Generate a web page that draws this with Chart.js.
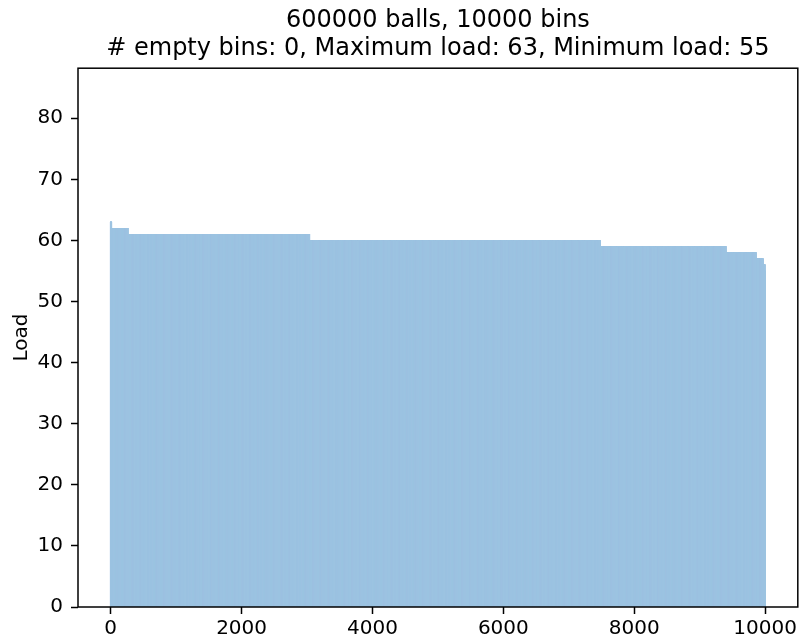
<!DOCTYPE html>
<html>
<head>
<meta charset="utf-8">
<script src="https://cdn.jsdelivr.net/npm/chart.js@4/dist/chart.umd.min.js"></script>
<style>
  body { margin: 0; background: #fff; }
  canvas { display: block; }
</style>
</head>
<body>
<canvas id="loadChart" width="800" height="641"></canvas>
<script>
const loadLevels = [63, 62, 61, 60, 59, 58, 57, 56, 55];
const binCounts = [10, 250, 2776, 4440, 1923, 459, 108, 29, 5];
const xTicks = [0, 2000, 4000, 6000, 8000, 10000];
const yTicks = [0, 10, 20, 30, 40, 50, 60, 70, 80];
const titleLines = [
  "600000 balls, 10000 bins",
  "# empty bins: 0, Maximum load: 63, Minimum load: 55"
];

let bins = [];
loadLevels.forEach((load, i) => {
  for (let k = 0; k < binCounts[i]; k++) {
    bins.push({ x: bins.length, y: load });
  }
});

const frame = {
  id: "frame",
  afterDraw(chart) {
    const a = chart.chartArea;
    const ctx = chart.ctx;
    ctx.save();
    ctx.strokeStyle = "#000";
    ctx.lineWidth = 1.5;
    ctx.strokeRect(a.left, a.top, a.right - a.left, a.bottom - a.top);
    ctx.restore();
  }
};

Chart.defaults.font.family = "'DejaVu Sans', sans-serif";
Chart.defaults.color = "#000";

new Chart(document.getElementById("loadChart"), {
  type: "bar",
  data: {
    datasets: [{
      data: bins,
      backgroundColor: "#9dc3e1",
      barThickness: 1,
      borderWidth: 0
    }]
  },
  options: {
    responsive: false,
    animation: false,
    events: [],
    layout: { padding: { left: 6, right: 1, top: 0, bottom: 0 } },
    plugins: {
      legend: { display: false },
      tooltip: { enabled: false },
      title: {
        display: true,
        fullSize: false,
        text: titleLines,
        font: { size: 24, weight: "normal", lineHeight: 1.15 },
        padding: { top: 7, bottom: 6 }
      }
    },
    scales: {
      x: {
        type: "linear",
        offset: false,
        min: -500,
        max: 10500,
        afterBuildTicks: axis => { axis.ticks = xTicks.map(v => ({ value: v })); },
        afterFit: axis => { axis.height = 34; },
        border: { display: false },
        grid: {
          offset: false,
          drawOnChartArea: false,
          tickLength: 7,
          tickColor: "#000",
          tickWidth: 1.5
        },
        ticks: {
          font: { size: 20 },
          padding: 3,
          maxRotation: 0,
          callback: v => String(v)
        }
      },
      y: {
        min: 0,
        max: 88.2,
        afterBuildTicks: axis => { axis.ticks = yTicks.map(v => ({ value: v })); },
        afterFit: axis => { axis.width = 72; },
        border: { display: false },
        grid: {
          drawOnChartArea: false,
          tickLength: 7,
          tickColor: "#000",
          tickWidth: 1.5
        },
        ticks: { font: { size: 20 }, padding: 8 },
        title: {
          display: true,
          text: "Load",
          font: { size: 20 },
          padding: 4
        }
      }
    }
  },
  plugins: [frame]
});
</script>
</body>
</html>
